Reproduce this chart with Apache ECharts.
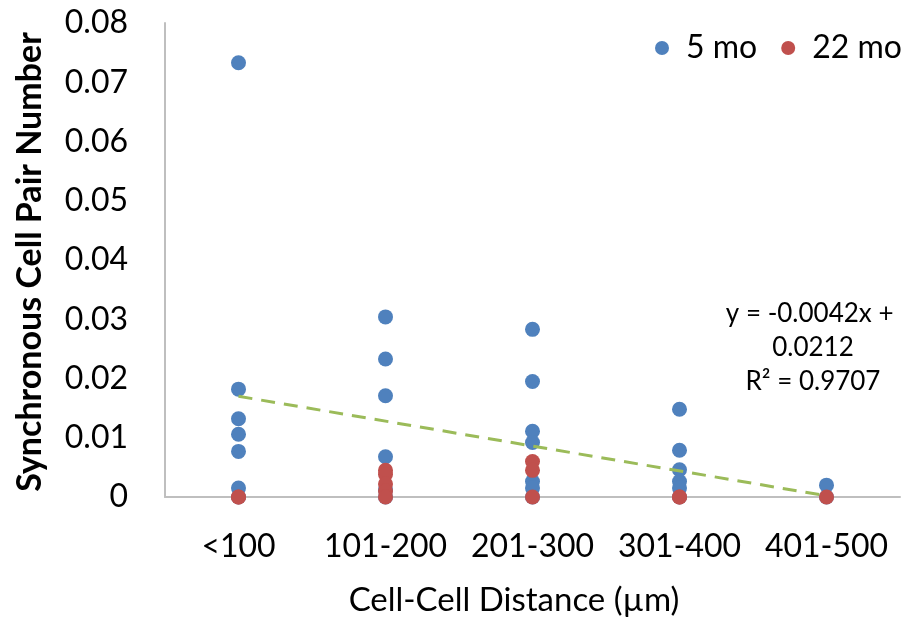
<!DOCTYPE html>
<html>
<head>
<meta charset="utf-8">
<script src="https://cdn.jsdelivr.net/npm/echarts@6/dist/echarts.min.js"></script>
<style>
  html, body { margin: 0; padding: 0; background: #fff; }
  #chart { width: 913px; height: 617px; }
</style>
</head>
<body>
<div id="chart"></div>
<script>
// Distance bins between cell pairs
const categories = ['<100', '101-200', '201-300', '301-400', '401-500'];

// Synchronous cell pair number per bin, 5-month animals
const fiveMo = [
  [0.0733, 0.0182, 0.0132, 0.0106, 0.0077, 0.0015, 0],
  [0.0304, 0.0233, 0.0171, 0.0068, 0.0012, 0],
  [0.0283, 0.0195, 0.0111, 0.0092, 0.0026, 0.0015, 0],
  [0.0148, 0.0079, 0.0046, 0.0026, 0.0015, 0],
  [0.0020, 0]
];

// Synchronous cell pair number per bin, 22-month animals
const twentyTwoMo = [
  [0, 0],
  [0.0045, 0.0038, 0.0022, 0.0010, 0],
  [0.0060, 0.0045, 0],
  [0, 0],
  [0]
];

// Linear trendline (x = bin number 1..5)
const trendSlope = -0.0042;
const trendIntercept = 0.0212;
const trendR2 = 0.9707;

const yTicks = { min: 0, max: 0.08, interval: 0.01 };

const FONT = 'Lato';

function toPairs(groups) {
  const out = [];
  groups.forEach((vals, i) => vals.forEach(v => out.push([i, v])));
  return out;
}

const trendData = [1, categories.length].map(n => [n - 1, trendSlope * n + trendIntercept]);

const chart = echarts.init(document.getElementById('chart'), null, { renderer: 'canvas' });

chart.setOption({
  animation: false,
  backgroundColor: '#ffffff',
  grid: { left: 165, right: 13, top: 23, bottom: 120 },
  legend: {
    data: ['5 mo', '22 mo'],
    left: 650,
    top: 27,
    itemWidth: 14,
    itemHeight: 14,
    itemGap: 24,
    textStyle: { fontFamily: FONT, fontSize: 32, color: '#000', padding: [0, 0, 0, 12] }
  },
  xAxis: {
    type: 'category',
    data: categories,
    boundaryGap: true,
    axisLine: { show: true, lineStyle: { color: '#bfbfbf', width: 2 } },
    axisTick: { show: false },
    splitLine: { show: false },
    axisLabel: { interval: 0, hideOverlap: false, margin: 34, fontFamily: FONT, fontSize: 32, color: '#000' }
  },
  yAxis: {
    type: 'value',
    min: yTicks.min,
    max: yTicks.max,
    interval: yTicks.interval,
    axisLine: { show: true, lineStyle: { color: '#bfbfbf', width: 2 } },
    axisTick: { show: false },
    splitLine: { show: false },
    axisLabel: {
      margin: 37, fontFamily: FONT, fontSize: 32, color: '#000',
      formatter: v => (v === 0 ? '0' : v.toFixed(2))
    }
  },
  graphic: [
    {
      type: 'text',
      x: 30, y: 262,
      rotation: Math.PI / 2,
      style: {
        text: 'Synchronous Cell Pair Number',
        align: 'center', verticalAlign: 'middle',
        font: 'bold 34px ' + FONT, fill: '#000'
      }
    },
    {
      type: 'text',
      x: 514, y: 600,
      style: {
        text: 'Cell-Cell Distance (µm)',
        align: 'center', verticalAlign: 'middle',
        font: '33px ' + FONT, fill: '#000'
      }
    },
    {
      type: 'text',
      x: 813, y: 348,
      style: {
        text: 'y = -0.0042x + \n' + trendIntercept.toFixed(4) + '\nR² = ' + trendR2.toFixed(4),
        align: 'center', verticalAlign: 'middle',
        font: '26px ' + FONT, lineHeight: 34, fill: '#000'
      }
    }
  ],
  series: [
    {
      name: '5 mo',
      type: 'scatter',
      data: toPairs(fiveMo),
      symbol: 'circle',
      symbolSize: 15,
      itemStyle: { color: '#4F81BD', opacity: 1 },
      z: 2
    },
    {
      name: '22 mo',
      type: 'scatter',
      data: toPairs(twentyTwoMo),
      symbol: 'circle',
      symbolSize: 15,
      itemStyle: { color: '#C0504D', opacity: 1 },
      z: 3
    },
    {
      name: 'Linear (5 mo)',
      type: 'line',
      data: trendData,
      symbol: 'none',
      lineStyle: { color: '#9BBB59', width: 3, type: [14, 9] },
      z: 4,
      silent: true
    }
  ]
});
</script>
</body>
</html>
